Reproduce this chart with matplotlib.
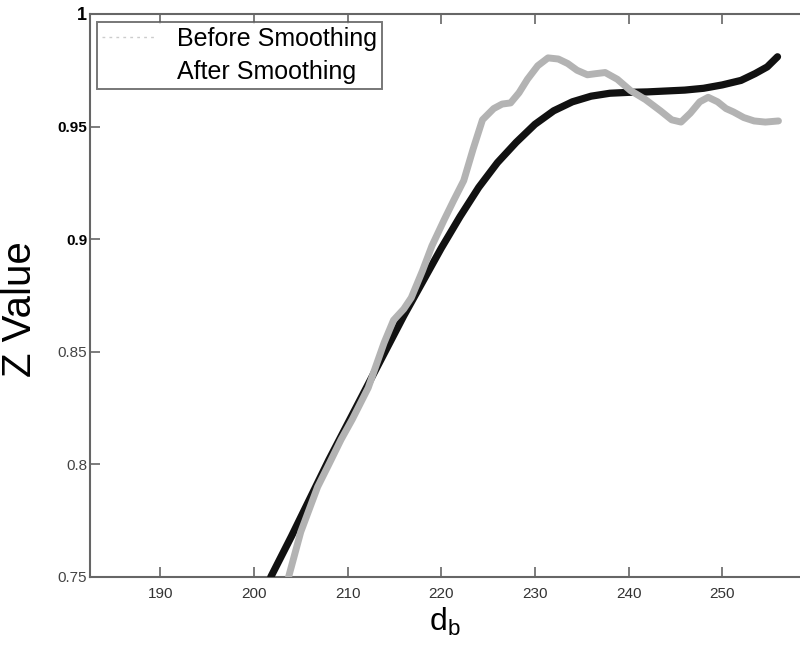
import matplotlib
matplotlib.use('Agg')
import matplotlib.pyplot as plt
from matplotlib.lines import Line2D

plt.rcParams['font.family'] = ['Liberation Sans', 'DejaVu Sans']
plt.rcParams['mathtext.fontset'] = 'custom'
plt.rcParams['mathtext.rm'] = 'Liberation Sans'
plt.rcParams['mathtext.it'] = 'Liberation Sans'

# Before smoothing (grey, noisy)
x_before = [203.7, 205.0, 206.8, 208.0, 209.3, 210.5, 212.2, 213.9, 214.9, 216.0,
            216.8, 218.0, 219.0, 220.3, 221.3, 222.4, 223.4, 224.4, 225.6, 226.5,
            227.4, 228.3, 229.2, 230.3, 231.4, 232.5, 233.5, 234.5, 235.6, 236.5,
            237.5, 238.8, 240.2, 241.8, 243.4, 244.6, 245.6, 246.6, 247.6, 248.5,
            249.5, 250.4, 251.2, 252.3, 253.4, 254.6, 256.0]
z_before = [0.750, 0.770, 0.790, 0.800, 0.811, 0.820, 0.834, 0.854, 0.864, 0.869,
            0.874, 0.886, 0.897, 0.9085, 0.917, 0.926, 0.940, 0.953, 0.958, 0.960,
            0.9605, 0.965, 0.971, 0.977, 0.9805, 0.980, 0.978, 0.975, 0.973, 0.9735,
            0.974, 0.971, 0.966, 0.962, 0.957, 0.953, 0.952, 0.956, 0.961, 0.963,
            0.961, 0.958, 0.9565, 0.954, 0.9525, 0.952, 0.9525]

# After smoothing (black)
x_after = [201.8, 204.0, 206.0, 208.0, 210.0, 212.0, 214.0, 216.0, 218.0, 220.0,
           222.0, 224.0, 226.0, 228.0, 230.0, 232.0, 234.0, 236.0, 238.0, 240.0,
           242.0, 244.0, 246.0, 248.0, 250.0, 252.0, 253.5, 254.8, 255.9]
z_after = [0.750, 0.768, 0.785, 0.802, 0.818, 0.834, 0.850, 0.866, 0.881, 0.896,
           0.910, 0.923, 0.934, 0.943, 0.951, 0.957, 0.961, 0.9635, 0.9648, 0.9652,
           0.9654, 0.9658, 0.9662, 0.967, 0.9685, 0.9705, 0.9735, 0.9765, 0.981]

xticks = [190, 200, 210, 220, 230, 240, 250]
yticks = [0.75, 0.8, 0.85, 0.9, 0.95, 1.0]
ytick_labels = ['0.75', '0.8', '0.85', '0.9', '0.95', '1']

fig = plt.figure(figsize=(8, 6.53), dpi=100)
ax = fig.add_axes([0.1125, 0.1164, 0.8875, 0.8622])

ax.plot(x_after, z_after, color='#111111', lw=5.2, solid_capstyle='round',
        solid_joinstyle='round', zorder=3)
ax.plot(x_before, z_before, color='#b3b3b3', lw=5.0, solid_capstyle='round',
        solid_joinstyle='round', zorder=4)

ax.set_xlim(182.5, 258.3)
ax.set_ylim(0.75, 1.0)
ax.set_xticks(xticks)
ax.set_xticklabels([str(t) for t in xticks], fontsize=11, color='#333333')
ax.set_yticks(yticks)
ax.set_yticklabels(ytick_labels, fontsize=11)
for lab, t in zip(ax.get_yticklabels(), yticks):
    if t >= 0.9:
        lab.set_fontweight('bold')
        lab.set_color('black')
    else:
        lab.set_color('#444444')
ax.get_yticklabels()[-1].set_fontsize(13)

ax.tick_params(direction='in', length=7, width=1.2, color='#666666', top=True)
ax.tick_params(axis='x', pad=7)
ax.tick_params(axis='y', pad=2)
for side in ['left', 'bottom', 'top']:
    ax.spines[side].set_color('#666666')
    ax.spines[side].set_linewidth(1.5)
ax.spines['right'].set_visible(False)

ax.set_xlabel(r'$\mathrm{d_b}$', fontsize=23)
ax.xaxis.set_label_coords(0.5, -0.052)
ax.set_ylabel('Z Value', fontsize=29)
ax.yaxis.set_label_coords(-0.072, 0.476)

handles = [Line2D([0], [0], color='#cccccc', lw=1, ls=(0, (2, 3))),
           Line2D([0], [0], color='white', lw=1)]
leg = ax.legend(handles, ['Before Smoothing', 'After Smoothing'],
                loc='upper left', bbox_to_anchor=(0.0099, 0.986),
                fontsize=18, frameon=True, fancybox=False,
                borderpad=0.19, labelspacing=0.38, handlelength=2.2,
                handletextpad=0.82, borderaxespad=0.0)
leg.get_frame().set_edgecolor('#555555')
leg.get_frame().set_linewidth(1.4)

fig.savefig('out.png', dpi=100)
